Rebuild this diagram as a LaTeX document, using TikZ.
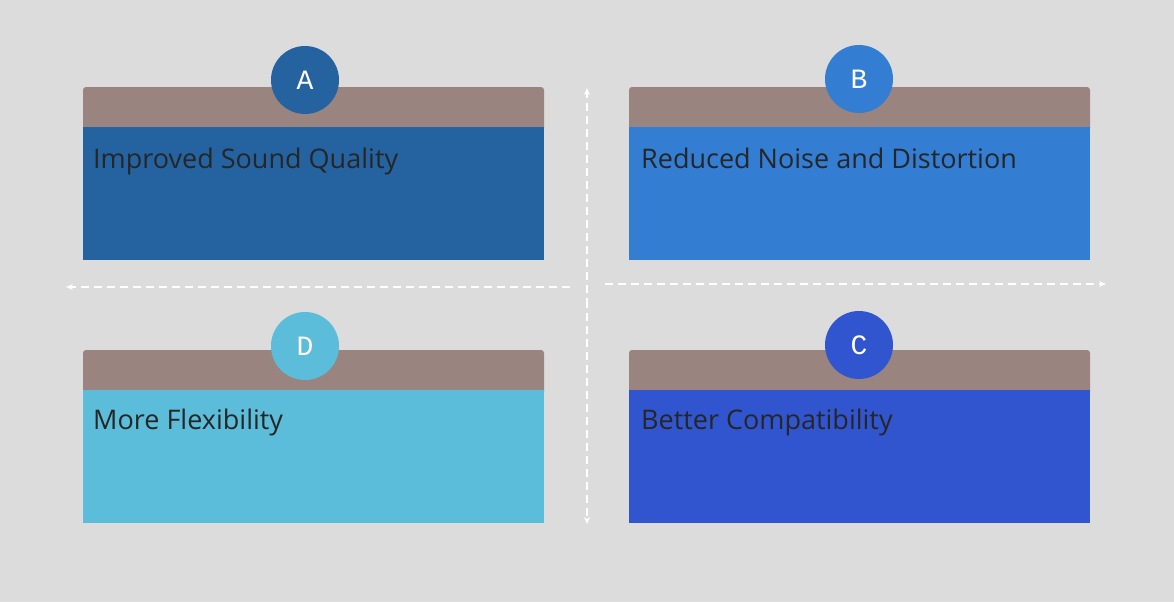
\documentclass[tikz,border=0pt]{standalone}
\usepackage{fontspec}
\setmainfont{Open Sans}
\newfontfamily\monof{Liberation Mono}
\usetikzlibrary{arrows.meta}
\definecolor{bg}{HTML}{DCDCDC}
\definecolor{hdr}{HTML}{9A8480}
\definecolor{cA}{HTML}{2563A0}
\definecolor{cB}{HTML}{337DD3}
\definecolor{cC}{HTML}{3155CF}
\definecolor{cD}{HTML}{5BBDDA}
\begin{document}
\begin{tikzpicture}[x=1pt,y=-1pt,
  hdrbox/.style={fill=hdr,rounded corners=3pt},
  lbl/.style={anchor=base west,inner sep=0pt,font=\fontsize{27}{30}\selectfont,text=black!85},
  badge/.style={circle,minimum size=68pt,inner sep=0pt,text=white,font=\monof\fontsize{28}{30}\selectfont},
  axis/.style={white,line width=1.6pt,dash pattern=on 8pt off 5pt,-{Stealth[length=7pt,width=6pt]}}]
\useasboundingbox[fill=bg] (0,0) rectangle (1174,602);
% boxes
\foreach \x/\y/\c/\n in {83/87/cA/a,629/87/cB/b,83/350/cD/d,629/350/cC/c}{
  \fill[hdrbox] (\x,\y) rectangle ++(461,45);
  \fill[\c] (\x,\y+40) rectangle ++(461,133);
}
\node[lbl] (ta) at (93,168) {Improved Sound Quality};
\node[lbl] (tb) at (641,168) {Reduced Noise and Distortion};
\node[lbl] (td) at (93,429) {More Flexibility};
\node[lbl] (tc) at (641,429) {Better Compatibility};
\node[badge,fill=cA] (A) at (305,80) {A};
\node[badge,fill=cB] (B) at (859,79) {B};
\node[badge,fill=cD] (D) at (305,346) {D};
\node[badge,fill=cC] (C) at (859,345) {C};
% axes
\coordinate (h1) at (570,287); \coordinate (h2) at (66,287);
\coordinate (h3) at (605,284); \coordinate (h4) at (1106,284);
\coordinate (v1) at (587,306); \coordinate (v2) at (587,88);
\coordinate (v3) at (587,300); \coordinate (v4) at (587,524);
\draw[axis] (h1) -- (h2);
\draw[axis] (h3) -- (h4);
\draw[axis] (v1) -- (v2);
\draw[axis] (v3) -- (v4);
\end{tikzpicture}
\end{document}
